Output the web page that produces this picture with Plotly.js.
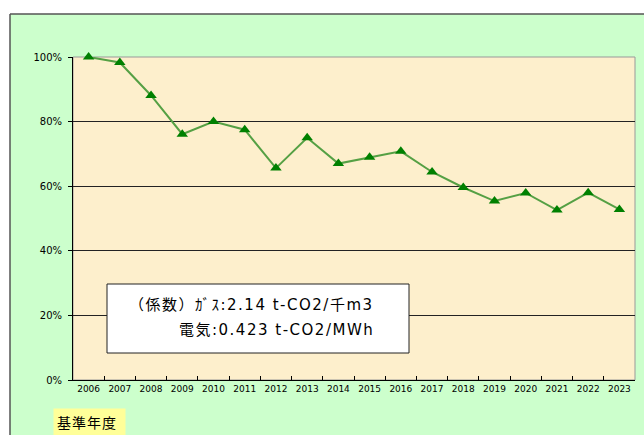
<!DOCTYPE html>
<html>
<head>
<meta charset="utf-8">
<script src="https://cdn.plot.ly/plotly-3.0.1.min.js"></script>
<style>html,body{margin:0;padding:0;background:#fff;}#chart{width:644px;height:435px;}</style>
</head>
<body>
<div id="chart"></div>
<script>
// ---- data ----
const years = ['2006','2007','2008','2009','2010','2011','2012','2013','2014','2015','2016','2017','2018','2019','2020','2021','2022','2023'];
const ratio = [1.000,0.983,0.881,0.761,0.800,0.775,0.656,0.750,0.670,0.690,0.708,0.644,0.596,0.554,0.579,0.526,0.580,0.528];
const noteLine1 = '（係数）ｶﾞｽ:2.14 t-CO2/千m3';
const noteLine2 = '電気:0.423 t-CO2/MWh';
const baseLabel = '基準年度';

// ---- layout geometry ----
const W = 644, H = 435;
const L = 73, R = 9, T = 57, B = 55;
const pw = W - L - R, ph = H - T - B;
const px = x => (x - L) / pw;
const py = y => (H - B - y) / ph;

const spaced = (s, ls) => '<span style="letter-spacing:' + ls + 'px">' + s + '</span>';
const noteFont = {size: 15, family: 'DejaVu Sans, Noto Sans CJK JP, sans-serif', color: '#000'};

const trace = {
  x: years, y: ratio, type: 'scatter', mode: 'lines+markers',
  line: {color: '#55a044', width: 2},
  marker: {symbol: 'triangle-up', size: 10, color: '#008000', line: {width: 0}},
  cliponaxis: false, hoverinfo: 'skip'
};

const layout = {
  width: W, height: H,
  margin: {l: L, r: R, t: T, b: B, pad: 0},
  paper_bgcolor: '#ccffcc',
  plot_bgcolor: '#fdefcc',
  showlegend: false,
  font: {family: 'DejaVu Sans, sans-serif', color: '#000'},
  xaxis: {
    type: 'category', range: [-0.5, 17.5],
    showgrid: false, zeroline: false,
    showline: true, linecolor: '#000', linewidth: 1,
    ticks: 'inside', tickson: 'boundaries', ticklen: 4, tickcolor: '#000', tickwidth: 1,
    tickangle: 0, tickfont: {size: 9, family: 'DejaVu Sans, sans-serif'}
  },
  yaxis: {
    range: [0, 1], dtick: 0.2, tick0: 0, tickformat: '.0%',
    showgrid: true, gridcolor: '#222', gridwidth: 1,
    zeroline: false,
    showline: true, linecolor: '#000', linewidth: 1,
    ticks: 'outside', ticklen: 4, tickcolor: '#000',
    ticklabelstandoff: 4,
    tickfont: {size: 10, family: 'DejaVu Sans, sans-serif'}
  },
  shapes: [
    {type: 'rect', xref: 'paper', yref: 'paper', x0: px(-5), x1: px(W + 5), y0: py(14), y1: py(-5), fillcolor: '#fff', line: {width: 0}, layer: 'below'},
    {type: 'rect', xref: 'paper', yref: 'paper', x0: px(-5), x1: px(10), y0: py(H + 5), y1: py(-5), fillcolor: '#fff', line: {width: 0}, layer: 'below'},
    {type: 'line', xref: 'paper', yref: 'paper', x0: px(10), x1: px(W + 5), y0: py(14), y1: py(14), line: {color: '#555', width: 1.5}},
    {type: 'line', xref: 'paper', yref: 'paper', x0: px(10), x1: px(10), y0: py(14), y1: py(H + 5), line: {color: '#555', width: 1.5}},
    {type: 'rect', xref: 'paper', yref: 'paper', x0: 0, x1: 1, y0: 0, y1: 1, line: {color: '#999', width: 1}, layer: 'below'},
    {type: 'rect', xref: 'paper', yref: 'paper', x0: px(107), x1: px(409), y0: py(353), y1: py(284), fillcolor: '#fff', line: {color: '#222', width: 1}, layer: 'above'}
  ],
  annotations: [
    {xref: 'paper', yref: 'paper', x: px(376), y: py(305), xanchor: 'right', yanchor: 'middle', showarrow: false,
     text: spaced(noteLine1, 1.5), font: noteFont},
    {xref: 'paper', yref: 'paper', x: px(376), y: py(330), xanchor: 'right', yanchor: 'middle', showarrow: false,
     text: spaced(noteLine2, 1.5), font: noteFont},
    {xref: 'paper', yref: 'paper', x: px(53), y: py(422), xanchor: 'left', yanchor: 'middle', showarrow: false,
     text: spaced(baseLabel, 1), bgcolor: '#ffff99', borderpad: 3, width: 65, align: 'left',
     font: {size: 14, family: 'Noto Sans CJK JP, sans-serif', color: '#000'}}
  ]
};

Plotly.newPlot('chart', [trace], layout, {staticPlot: true, displayModeBar: false});
</script>
</body>
</html>
